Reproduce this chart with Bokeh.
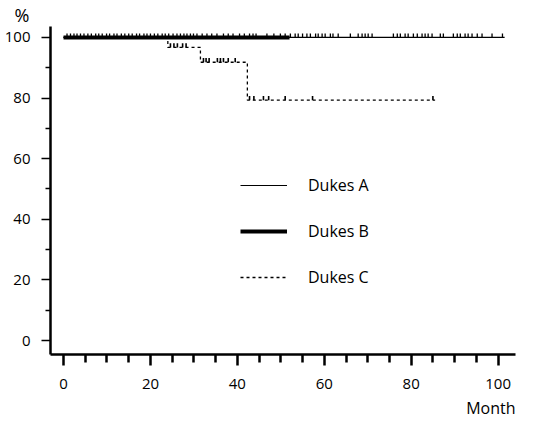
import numpy as np
from bokeh.plotting import figure
from bokeh.models import FixedTicker, Legend, LegendItem, Title
from bokeh.embed import file_html
from bokeh.resources import INLINE

# ---- data ----
x_ticks = [0, 20, 40, 60, 80, 100]
x_minor = [5, 10, 15, 25, 30, 35, 45, 50, 55, 65, 70, 75, 85, 90, 95]
y_ticks = [0, 20, 40, 60, 80, 100]
y_minor = [10, 30, 50, 70, 90]

a_time = [0, 101.5]
a_surv = [100, 100]
a_censor = [0.8, 1.6, 2.4, 3.1, 3.9, 4.7, 5.6, 6.4, 7.4, 8.1, 8.9, 9.9, 10.6, 11.6,
            12.3, 13.3, 14.1, 15.0, 15.8, 16.8, 17.5, 18.5, 19.2, 20.0, 20.9, 21.7,
            22.7, 23.4, 24.2, 25.2, 26.1, 26.9, 27.7, 28.4, 29.2, 29.9, 30.7, 31.9,
            33.0, 34.1, 35.3, 36.8, 37.9, 39.0, 40.5, 41.6, 42.8, 43.6, 44.3, 46.8,
            48.4, 49.9, 51.0, 52.2, 53.3, 54.0, 55.0, 56.0, 56.8, 58.0, 58.6, 59.5,
            60.2, 61.4, 62.0, 63.2, 66.0, 67.8, 68.7, 69.4, 70.1, 71.0, 75.9, 76.8,
            77.5, 78.6, 79.3, 80.5, 81.4, 82.5, 83.2, 83.9, 84.8, 86.7, 87.4, 89.7,
            90.6, 91.3, 92.4, 93.1, 94.0, 95.2, 96.3, 98.6, 101.0]

b_time = [0, 52]
b_surv = [100, 100]

c_time = [0, 24.0, 31.5, 42.3, 85.5]
c_surv = [100, 96.7, 91.8, 79.3, 79.3]
c_censor = [24.6, 25.4, 26.2, 27.4, 28.2, 32.2, 32.8, 33.5, 35.4, 36.1, 36.8, 37.9,
            39.5, 42.8, 43.8, 46.0, 47.2, 51.0, 57.3, 85.0]

labels = ["Dukes A", "Dukes B", "Dukes C"]

FONT = "Open Sans"

p = figure(width=543, height=423, output_backend="svg", toolbar_location=None,
           x_range=(-3, 104), y_range=(-4.6, 103.6),
           min_border_left=50, min_border_right=28, min_border_top=20,
           min_border_bottom=69)
p.outline_line_color = None
p.grid.visible = False
p.background_fill_color = "white"

# axes
p.xaxis.ticker = FixedTicker(ticks=x_ticks, minor_ticks=x_minor)
p.yaxis.ticker = FixedTicker(ticks=y_ticks, minor_ticks=y_minor)
for ax in (p.xaxis, p.yaxis):
    ax.axis_line_color = "black"
    ax.major_tick_line_color = "black"
    ax.minor_tick_line_color = "black"
    ax.major_tick_in = 0
    ax.minor_tick_in = 0
    ax.major_label_text_font = FONT
    ax.major_label_text_font_size = "15px"
    ax.major_label_text_color = "black"
p.xaxis.axis_line_width = 2.5
p.xaxis.major_tick_line_width = 2.5
p.xaxis.minor_tick_line_width = 2.5
p.xaxis.major_tick_out = 11
p.xaxis.minor_tick_out = 8
p.xaxis.major_label_standoff = 13
p.yaxis.axis_line_width = 2.5
p.yaxis.major_tick_line_width = 1.5
p.yaxis.minor_tick_line_width = 1.5
p.yaxis.major_tick_out = 9
p.yaxis.minor_tick_out = 5
p.yaxis.major_label_standoff = 11

# curves
ra = p.line(a_time, a_surv, line_color="black", line_width=1.2)
rb = p.line(b_time, b_surv, line_color="black", line_width=4)
rc = p.step(c_time, c_surv, mode="after", line_color="black", line_width=1.3,
            line_dash="3 3")

# censor marks
ac = np.array(a_censor)
ay = np.full(len(ac), a_surv[0], dtype=float)
p.segment(x0=ac, y0=ay, x1=ac, y1=ay + 1.3, line_color="black", line_width=1.3)

cc = np.array(c_censor)
idx = np.searchsorted(np.array(c_time), cc, side="right") - 1
cy = np.array(c_surv)[idx]
p.segment(x0=cc, y0=cy, x1=cc, y1=cy + 1.4, line_color="black", line_width=1.6)

# legend
legend = Legend(items=[LegendItem(label=labels[0], renderers=[ra]),
                       LegendItem(label=labels[1], renderers=[rb]),
                       LegendItem(label=labels[2], renderers=[rc])],
                location=(190, 66), orientation="vertical",
                glyph_width=47, glyph_height=20, label_height=20, spacing=24,
                label_standoff=21, padding=0, margin=0,
                border_line_alpha=0, background_fill_alpha=0,
                label_text_font=FONT, label_text_font_size="16px",
                label_text_color="black")
p.add_layout(legend, "center")

# "%" label above the y axis
p.add_layout(Title(text="%", align="left", offset=-36, text_font=FONT,
                   text_font_size="18px", text_font_style="normal",
                   text_color="black", standoff=0), "above")

# "Month" label at bottom right
p.add_layout(Title(text="Month", align="right", text_font=FONT,
                   text_font_size="16px", text_font_style="normal",
                   text_color="black", standoff=7), "below")

open("out.html", "w").write(file_html(p, INLINE))
